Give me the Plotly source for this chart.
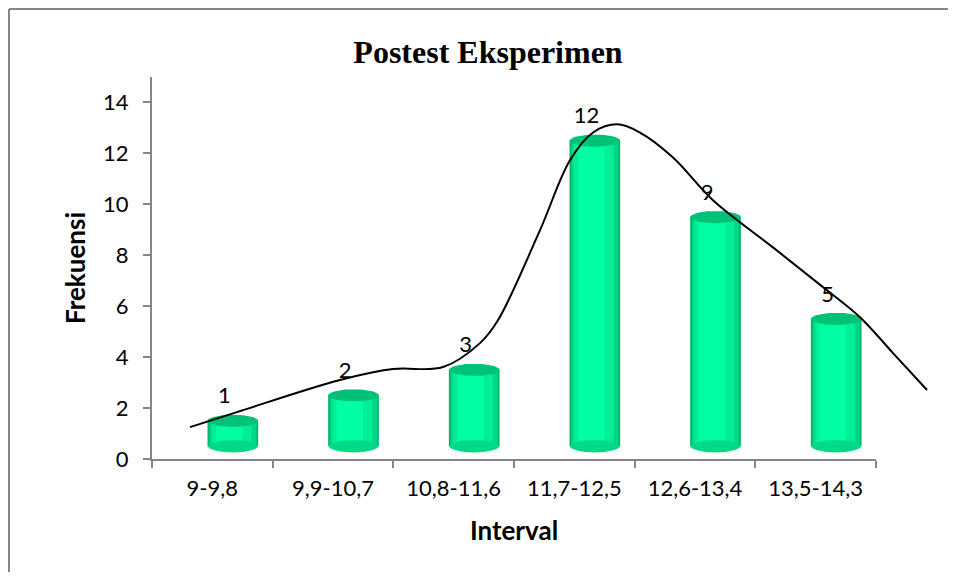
import numpy as np
import plotly.graph_objects as go

# ---- data ----
categories = ["9-9,8", "9,9-10,7", "10,8-11,6", "11,7-12,5", "12,6-13,4", "13,5-14,3"]
frekuensi = [1, 2, 3, 12, 9, 5]
y_ticks = [0, 2, 4, 6, 8, 10, 12, 14]
# smooth curve (x in category units, y in frequency units)
curve_x = [-0.185, 0.204, 1.058, 1.497, 1.912, 2.218, 2.367, 2.715,
           2.964, 3.155, 3.354, 3.544, 3.818, 4.149, 4.646, 5.061, 5.367, 5.641, 5.923]
curve_y = [1.25, 1.84, 3.10, 3.53, 3.61, 4.55, 5.45, 8.98,
           11.73, 12.82, 13.14, 12.82, 11.84, 10.16, 8.31, 6.75, 5.57, 4.16, 2.71]

# ---- layout geometry (page has an 8px body margin) ----
W, H = 940, 564
ML, MR, MT, MB = 144, 4, 69, 113
plot_w = W - ML - MR
plot_h = H - MT - MB
axis_w = 724
px_per_cat = axis_w / len(categories)
dom_main = axis_w / plot_w
x2_max = -0.5 + plot_w / px_per_cat

FONT = "Lato, 'Open Sans', sans-serif"
AXIS_COL = "#868686"

BAR_SHIFT = 0.17
BAR_W = 0.42
BASE = 0.5
ELL_B = 0.24

fig = go.Figure()

# cylinder bodies: overlaid layers to imitate shading
layers = [
    (BAR_W, 0.0, "#00B46C"),
    (BAR_W - 0.03, 0.0, "#00D686"),
    (BAR_W - 0.09, -0.01, "#00EE96"),
    (BAR_W - 0.20, -0.03, "#00FFA2"),
]
for w, sh, col in layers:
    fig.add_trace(go.Bar(
        x=categories, y=frekuensi, base=[BASE] * len(frekuensi),
        width=w, offset=BAR_SHIFT + sh - w / 2,
        marker=dict(color=col, line=dict(width=0)),
        xaxis="x", yaxis="y", hoverinfo="skip", showlegend=False,
    ))

# top ellipses (filled polygons so the curve can pass over them)
t = np.linspace(0, 2 * np.pi, 60)
for i, v in enumerate(frekuensi):
    xc = i + BAR_SHIFT
    yc = v + BASE
    fig.add_trace(go.Scatter(
        x=xc + (BAR_W / 2) * np.cos(t), y=yc + ELL_B * np.sin(t),
        mode="lines", fill="toself", fillcolor="#00C277",
        line=dict(width=0, color="#00C277"),
        xaxis="x2", yaxis="y", hoverinfo="skip", showlegend=False,
    ))

# bottom rounded ends (below the bodies)
shapes = []
for i, v in enumerate(frekuensi):
    xc = i + BAR_SHIFT
    shapes.append(dict(type="circle", xref="x2", yref="y", layer="below",
                       x0=xc - BAR_W / 2 + 0.004, x1=xc + BAR_W / 2 - 0.004,
                       y0=BASE - ELL_B, y1=BASE + ELL_B,
                       fillcolor="#00DA88", line=dict(width=0)))

# smooth black curve
fig.add_trace(go.Scatter(
    x=curve_x, y=curve_y, mode="lines",
    line=dict(color="black", width=2, shape="spline", smoothing=1.0),
    xaxis="x2", yaxis="y", hoverinfo="skip", showlegend=False,
))

# data labels
fig.add_trace(go.Scatter(
    x=[i + 0.1 for i in range(len(frekuensi))], y=[v + 1.4 for v in frekuensi],
    mode="text", text=[str(v) for v in frekuensi], textposition="middle center",
    textfont=dict(family=FONT, size=22, color="black"),
    xaxis="x2", yaxis="y", hoverinfo="skip", showlegend=False, cliponaxis=False,
))

# chart border: only the left and top edges are inside the picture
bx = (1 - ML) / plot_w
by = (MT + plot_h - 1) / plot_h
shapes.append(dict(type="line", xref="paper", yref="paper", layer="above",
                   x0=bx, x1=bx, y0=by, y1=(MT + plot_h - (H + 20)) / plot_h,
                   line=dict(color=AXIS_COL, width=2)))
shapes.append(dict(type="line", xref="paper", yref="paper", layer="above",
                   x0=bx, x1=(W + 20 - ML) / plot_w, y0=by, y1=by,
                   line=dict(color=AXIS_COL, width=2)))

fig.update_layout(
    width=W, height=H,
    margin=dict(l=ML, r=MR, t=MT, b=MB),
    paper_bgcolor="white", plot_bgcolor="rgba(0,0,0,0)",
    barmode="overlay", showlegend=False,
    title=dict(text="<b>Postest Eksperimen</b>", x=480 / W, xref="container", xanchor="center",
               y=1 - 44 / H, yref="container", yanchor="middle",
               font=dict(family="'Liberation Serif', 'Times New Roman', serif", size=32, color="black")),
    font=dict(family=FONT, color="black"),
    xaxis=dict(domain=[0, dom_main], anchor="y", type="category",
               categoryorder="array", categoryarray=categories, range=[-0.5, len(categories) - 0.5],
               showline=True, linecolor=AXIS_COL, linewidth=2,
               ticks="outside", tickson="boundaries", ticklen=7, tickcolor=AXIS_COL, tickwidth=2,
               tickfont=dict(family=FONT, size=22, color="black"), ticklabelstandoff=9,
               showgrid=False, zeroline=False,
               title=dict(text="<b>Interval</b>", font=dict(family=FONT, size=26, color="black"),
                          standoff=21)),
    xaxis2=dict(domain=[0, 1], anchor="y", range=[-0.5, x2_max], visible=False,
                showgrid=False, zeroline=False),
    yaxis=dict(domain=[0, 1], anchor="x", range=[0, 15],
               tickmode="array", tickvals=y_ticks, ticktext=[str(v) for v in y_ticks],
               showline=True, linecolor=AXIS_COL, linewidth=2,
               ticks="outside", ticklen=7, tickcolor=AXIS_COL, tickwidth=2,
               tickfont=dict(family=FONT, size=22, color="black"), ticklabelstandoff=10,
               showgrid=False, zeroline=False,
               title=dict(text="<b>Frekuensi</b>", font=dict(family=FONT, size=26, color="black"),
                          standoff=10)),
    shapes=shapes,
)

fig.write_html("out.html")
